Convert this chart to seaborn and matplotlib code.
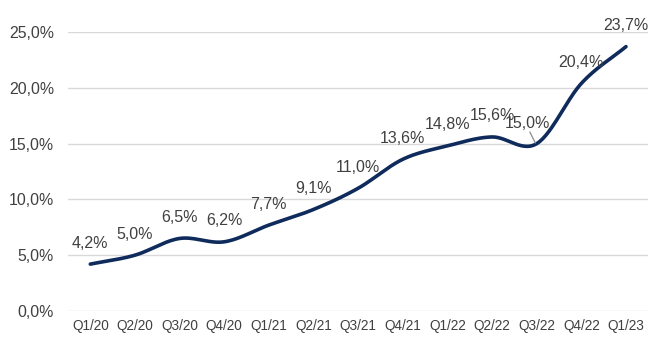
import numpy as np
import pandas as pd
import matplotlib
matplotlib.use("Agg")
import matplotlib.pyplot as plt
import seaborn as sns

categories = ["Q1/20", "Q2/20", "Q3/20", "Q4/20", "Q1/21", "Q2/21", "Q3/21",
              "Q4/21", "Q1/22", "Q2/22", "Q3/22", "Q4/22", "Q1/23"]
values = [4.2, 5.0, 6.5, 6.2, 7.7, 9.1, 11.0, 13.6, 14.8, 15.6, 15.0, 20.4, 23.7]
yticks = [0, 5, 10, 15, 20, 25]

sns.set_theme(style="white")
plt.rcParams['font.family'] = ['Liberation Sans', 'DejaVu Sans']

LINE = "#0E2B5C"
TXT = "#404040"
GRID = "#D9D9D9"

def catmull_rom(x, y, n=30):
    x = np.asarray(x, float); y = np.asarray(y, float)
    px = np.concatenate([[2 * x[0] - x[1]], x, [2 * x[-1] - x[-2]]])
    py = np.concatenate([[2 * y[0] - y[1]], y, [2 * y[-1] - y[-2]]])
    xs, ys = [], []
    for i in range(1, len(px) - 2):
        t = np.linspace(0, 1, n, endpoint=(i == len(px) - 3))
        t2, t3 = t * t, t * t * t
        for arr, out in ((px, xs), (py, ys)):
            p0, p1, p2, p3 = arr[i - 1], arr[i], arr[i + 1], arr[i + 2]
            out.append(0.5 * ((2 * p1) + (-p0 + p2) * t +
                              (2 * p0 - 5 * p1 + 4 * p2 - p3) * t2 +
                              (-p0 + 3 * p1 - 3 * p2 + p3) * t3))
    return np.concatenate(xs), np.concatenate(ys)

xi = np.arange(len(categories))
sx, sy = catmull_rom(xi, values)
df = pd.DataFrame({"x": sx, "y": sy})

fig = plt.figure(figsize=(6.58, 3.49), dpi=100)
ax = fig.add_axes([0.1033, 0.109, 0.882, 0.799])
sns.lineplot(data=df, x="x", y="y", ax=ax, color=LINE, linewidth=2.6,
             sort=False, estimator=None)
ax.set_xlim(-0.5, len(categories) - 0.5)
ax.set_ylim(0, 25)
ax.set_xticks(xi)
ax.set_xticklabels(categories, fontsize=9.8, color=TXT)
ax.set_yticks(yticks)
ax.set_yticklabels([f"{v:.1f}%".replace(".", ",") for v in yticks],
                   fontsize=11.4, color=TXT)
ax.set_xlabel(""); ax.set_ylabel("")
ax.tick_params(axis="both", length=0, pad=6)
ax.tick_params(axis="y", pad=10)
for s in ax.spines.values():
    s.set_visible(False)
ax.grid(axis="y", color=GRID, linewidth=1.0)
ax.set_axisbelow(True)

for i, v in enumerate(values):
    lab = f"{v:.1f}%".replace(".", ",")
    dx = 0
    dy = 21
    if i == 10:
        dx = -7
        dy = 20
        ax.annotate("", xy=(i - 0.03, v + 0.05), xytext=(-4, 8),
                    textcoords="offset points",
                    arrowprops=dict(arrowstyle="-", color="#8C8C8C", lw=0.9,
                                    shrinkA=0, shrinkB=0))
    ax.annotate(lab, (i, v), xytext=(dx, dy * 0.72), textcoords="offset points",
                ha="center", va="center", fontsize=11.5, color=TXT)

fig.savefig("out.png", dpi=100)
